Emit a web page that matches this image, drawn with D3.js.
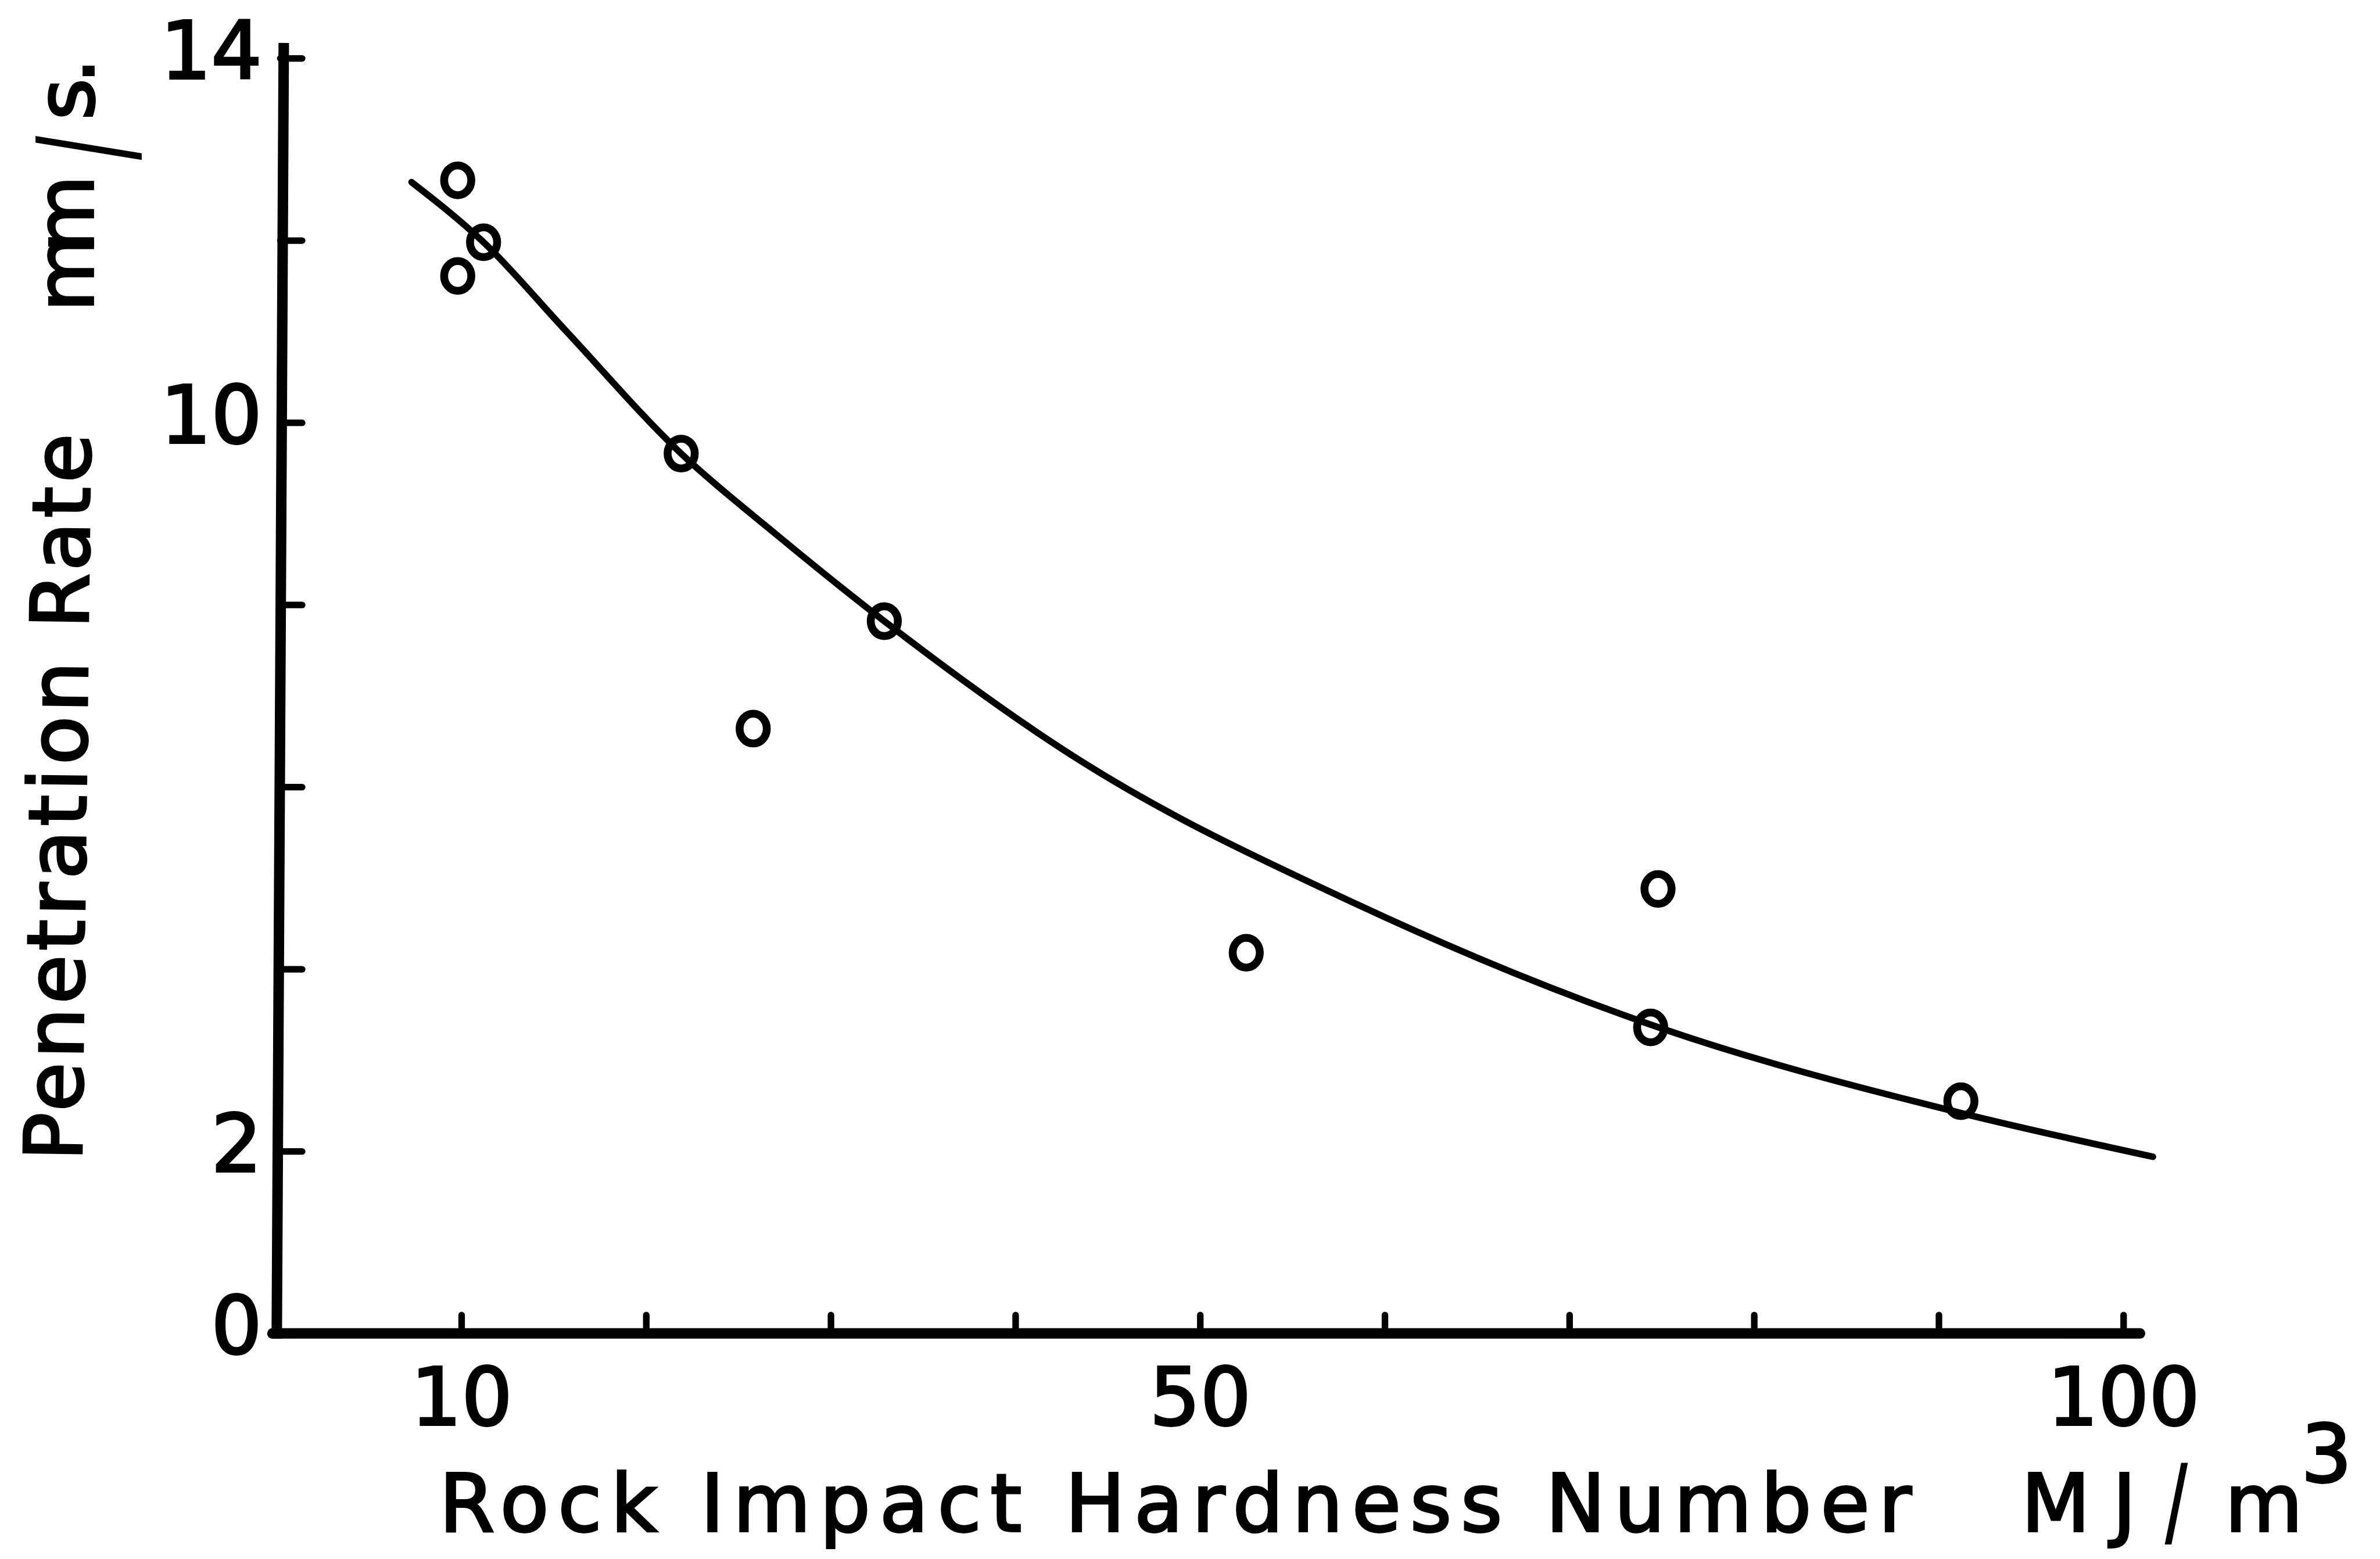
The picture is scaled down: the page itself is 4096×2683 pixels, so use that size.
<!DOCTYPE html>
<html>
<head>
<meta charset="utf-8">
<script src="https://cdn.jsdelivr.net/npm/d3@7"></script>
<style>
  body { margin: 0; background: #fff; }
  svg { display: block; }
</style>
</head>
<body>
<svg width="4096" height="2683"></svg>
<script>
// axis ticks and which of them carry a label
var xTicks = [10, 20, 30, 40, 50, 60, 70, 80, 90, 100],
    xLabels = [10, 50, 100],
    yTicks = [0, 2, 4, 6, 8, 10, 12, 14],
    yLabels = [0, 2, 10, 14];

// measured points: rock impact hardness number (MJ/m3) vs penetration rate (mm/s)
var hardness = [9.8, 11.2, 9.8, 21.9, 25.8, 32.9, 52.5, 74.8, 74.4, 91.2],
    rate     = [12.66, 11.98, 11.61, 9.66, 6.64, 7.82, 4.18, 4.88, 3.36, 2.55];

// hand drawn fitted curve
var fitX = [7.3, 11.2, 15.6, 21.9, 27.0, 32.9, 43.5, 58.4, 74.4, 91.2, 101.6],
    fitY = [12.64, 11.98, 11.02, 9.66, 8.78, 7.82, 6.29, 4.72, 3.39, 2.42, 1.94];

var svg = d3.select("svg"),
    k = 4096 / 5435,                       // everything below is in reference pixels
    font = "DejaVu Sans, Liberation Sans, sans-serif",
    fs = 182;

var g = svg.append("g").attr("transform", "scale(" + k + ")");

var x = d3.scaleLinear().domain([0, 100]).range([632, 4849]),
    y = d3.scaleLinear().domain([0, 14]).range([3045, 133]);

// x axis: ticks point up into the plot
var gx = g.append("g")
    .attr("transform", "translate(0," + y(0) + ")")
    .call(d3.axisBottom(x)
        .tickValues(xTicks)
        .tickSize(-42)
        .tickPadding(80)
        .tickFormat(function(d) { return xLabels.indexOf(d) >= 0 ? d : ""; }));
gx.select(".domain").remove();

// y axis: ticks point right
var gy = g.append("g")
    .attr("transform", "translate(640,0)")
    .call(d3.axisLeft(y)
        .tickValues(yTicks)
        .tickSize(-50)
        .tickPadding(42)
        .tickFormat(function(d) { return yLabels.indexOf(d) >= 0 ? d : ""; }));
gy.select(".domain").remove();

[gx, gy].forEach(function(a) {
  a.attr("font-family", font).attr("font-size", fs);
  a.selectAll(".tick line").attr("stroke", "#000").attr("stroke-width", 15).attr("stroke-linecap", "round");
  a.selectAll(".tick text").attr("fill", "#000").attr("stroke", "#000").attr("stroke-width", 5);
});
gy.selectAll(".tick text").attr("dy", "0.25em");

// axis lines (drawn by hand in the original, the vertical one leans a little)
g.append("line")
    .attr("x1", 632).attr("y1", y(0) + 12)
    .attr("x2", 648).attr("y2", 98)
    .attr("stroke", "#000").attr("stroke-width", 24);
g.append("line")
    .attr("x1", 622).attr("y1", y(0))
    .attr("x2", 4887).attr("y2", y(0))
    .attr("stroke", "#000").attr("stroke-width", 24).attr("stroke-linecap", "round");

// fitted curve
var fit = fitX.map(function(v, i) { return [v, fitY[i]]; });
g.append("path")
    .datum(fit)
    .attr("fill", "none")
    .attr("stroke", "#000")
    .attr("stroke-width", 15)
    .attr("stroke-linecap", "round")
    .attr("d", d3.line()
        .x(function(d) { return x(d[0]); })
        .y(function(d) { return y(d[1]); })
        .curve(d3.curveMonotoneX));

// data points, open circles
var pts = hardness.map(function(v, i) { return [v, rate[i]]; });
g.selectAll(".pt")
    .data(pts)
    .enter().append("ellipse")
    .attr("class", "pt")
    .attr("cx", function(d) { return x(d[0]); })
    .attr("cy", function(d) { return y(d[1]); })
    .attr("rx", 31)
    .attr("ry", 34)
    .attr("fill", "none")
    .attr("stroke", "#000")
    .attr("stroke-width", 18);

// label helper
function label(tr, txt, opts) {
  opts = opts || {};
  var t = g.append("text")
      .attr("transform", tr)
      .attr("font-family", font)
      .attr("font-size", opts.size || fs)
      .attr("fill", "#000")
      .attr("stroke", "#000")
      .attr("stroke-width", 5)
      .attr("text-anchor", opts.anchor || "start")
      .text(txt);
  if (opts.len) t.attr("textLength", opts.len).attr("lengthAdjust", "spacing");
  return t;
}

// x title
label("translate(1003,3496)", "Rock Impact Hardness Number", { len: 3362 });
label("translate(4616,3496)", "MJ", { len: 262 });
label("translate(4970,3505) scale(0.65,1)", "/", { size: 221, anchor: "middle" });
label("translate(5081,3496)", "m", { len: 155 });
label("translate(5255,3384)", "3");

// y title
label("translate(186,2651) rotate(-89.3)", "Penetration Rate", { len: 1660 });
label("translate(212,712) rotate(-90)", "mm", { len: 312 });
label("translate(294,338) rotate(-90) scale(0.53,1)", "/", { size: 288, anchor: "middle" });
label("translate(214,274) rotate(-90)", "s.", { len: 141 });
</script>
</body>
</html>
